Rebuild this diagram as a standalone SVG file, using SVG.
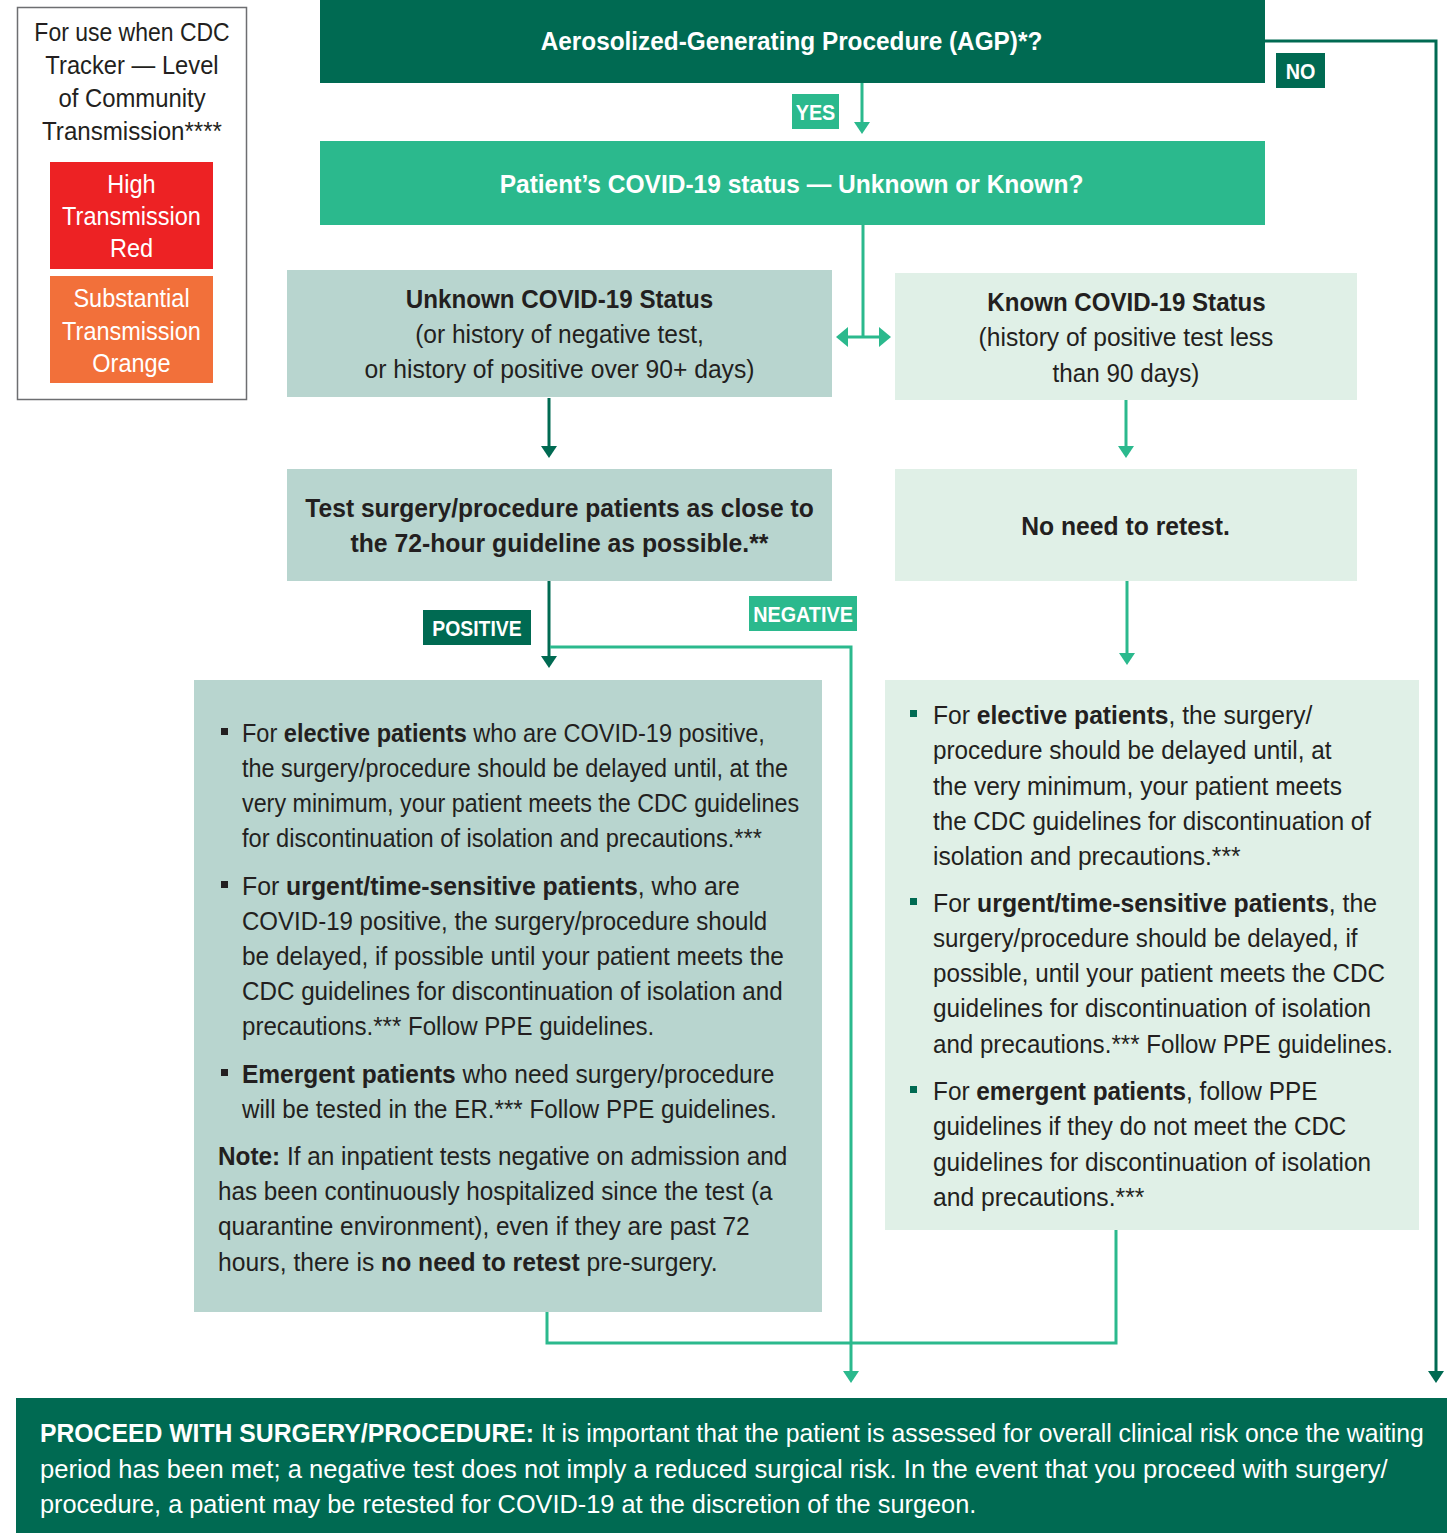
<svg xmlns="http://www.w3.org/2000/svg" width="1447" height="1533" viewBox="0 0 1447 1533">
<defs>
<style>
.t{font-family:"Liberation Sans",Arial,Helvetica,sans-serif;font-size:26px;fill:#231f20}
.lg{font-size:25px}
.w{fill:#ffffff}
.b{font-weight:bold}
.m{text-anchor:middle}
.lab{font-family:"Liberation Sans",Arial,sans-serif;font-size:22px;font-weight:bold;fill:#ffffff;text-anchor:middle}
.cd{fill:none;stroke:#006a52;stroke-width:3}
.cl{fill:none;stroke:#2bb98d;stroke-width:3}
</style>
<marker id="ad" viewBox="0 0 12 16" markerWidth="12" markerHeight="16" refX="0" refY="8" orient="auto" markerUnits="userSpaceOnUse"><path d="M0,0 L12,8 L0,16 Z" fill="#006a52"/></marker>
<marker id="al" viewBox="0 0 12 16" markerWidth="12" markerHeight="16" refX="0" refY="8" orient="auto" markerUnits="userSpaceOnUse"><path d="M0,0 L12,8 L0,16 Z" fill="#2bb98d"/></marker>
<marker id="alw" viewBox="0 0 12 20" markerWidth="12" markerHeight="20" refX="0" refY="10" orient="auto-start-reverse" markerUnits="userSpaceOnUse"><path d="M0,0 L12,10 L0,20 Z" fill="#2bb98d"/></marker>
</defs>
<rect width="1447" height="1533" fill="#ffffff"/>

<g id="connectors">
<path class="cd" d="M1265,41 H1436 V1371" marker-end="url(#ad)"/>
<path class="cl" d="M862,83 V122" marker-end="url(#al)"/>
<path class="cl" d="M863,225 V337"/>
<path class="cl" d="M848,337 H879" marker-start="url(#alw)" marker-end="url(#alw)"/>
<path class="cd" d="M549,398 V446" marker-end="url(#ad)"/>
<path class="cl" d="M1126,400 V446" marker-end="url(#al)"/>
<path class="cd" d="M549,581 V656" marker-end="url(#ad)"/>
<path class="cl" d="M550,647 H851 V1371" marker-end="url(#al)"/>
<path class="cl" d="M1127,581 V653" marker-end="url(#al)"/>
<path class="cl" d="M547,1312 V1343 H1116 V1230"/>
<g id="label-yes"><rect x="792" y="94" width="47" height="35" fill="#2bb98d"/><text class="lab" transform="translate(815.5 0) scale(0.9 1)" x="0" y="120">YES</text></g>
<g id="label-no"><rect x="1276" y="53" width="49" height="35" fill="#006a52"/><text class="lab" transform="translate(1300.5 0) scale(0.9 1)" x="0" y="79">NO</text></g>
<g id="label-positive"><rect x="423" y="610" width="108" height="35" fill="#006a52"/><text class="lab" transform="translate(477 0) scale(0.88 1)" x="0" y="636">POSITIVE</text></g>
<g id="label-negative"><rect x="749" y="596" width="108" height="35" fill="#2bb98d"/><text class="lab" transform="translate(803 0) scale(0.9 1)" x="0" y="622">NEGATIVE</text></g>
</g>

<g id="legend">
<rect x="17.5" y="7.5" width="229" height="392" fill="#ffffff" stroke="#6d6e71" stroke-width="1.5"/>
<text class="t lg m" transform="translate(132 0) scale(0.919 1)" x="0" y="41">For use when CDC</text>
<text class="t lg m" transform="translate(132 0) scale(0.95 1)" x="0" y="74">Tracker — Level</text>
<text class="t lg m" transform="translate(132 0) scale(0.955 1)" x="0" y="107">of Community</text>
<text class="t lg m" transform="translate(132 0) scale(0.965 1)" x="0" y="140">Transmission****</text>
<g id="legend-red"><rect x="50" y="162" width="163" height="107" fill="#ed2224"/>
<text class="t lg w m" transform="translate(131.5 0) scale(0.94 1)"><tspan x="0" y="193">High</tspan><tspan x="0" y="225">Transmission</tspan><tspan x="0" y="257">Red</tspan></text></g>
<g id="legend-orange"><rect x="50" y="276" width="163" height="107" fill="#f2703a"/>
<text class="t lg w m" transform="translate(131.5 0) scale(0.94 1)"><tspan x="0" y="307">Substantial</tspan><tspan x="0" y="340">Transmission</tspan><tspan x="0" y="372">Orange</tspan></text></g>
</g>

<g id="agp">
<rect x="320" y="0" width="945" height="83" fill="#006a52"/>
<text class="t w b m" transform="translate(791.5 0) scale(0.936 1)" x="0" y="50">Aerosolized-Generating Procedure (AGP)*?</text>
</g>

<g id="status">
<rect x="320" y="141" width="945" height="84" fill="#2bb98d"/>
<text class="t w b m" transform="translate(791.5 0) scale(0.944 1)" x="0" y="193">Patient’s COVID-19 status — Unknown or Known?</text>
</g>

<g id="unknown">
<rect x="287" y="270" width="545" height="127" fill="#b8d5cf"/>
<text class="t b m" transform="translate(559.5 0) scale(0.93 1)" x="0" y="308">Unknown COVID-19 Status</text>
<text class="t m" transform="translate(559.5 0) scale(0.943 1)" x="0" y="343">(or history of negative test,</text>
<text class="t m" transform="translate(559.5 0) scale(0.949 1)" x="0" y="378">or history of positive over 90+ days)</text>
</g>

<g id="known">
<rect x="895" y="273" width="462" height="127" fill="#e0f0e7"/>
<text class="t b m" transform="translate(1126.5 0) scale(0.927 1)" x="0" y="311">Known COVID-19 Status</text>
<text class="t m" transform="translate(1126 0) scale(0.945 1)" x="0" y="346">(history of positive test less</text>
<text class="t m" transform="translate(1126 0) scale(0.932 1)" x="0" y="382">than 90 days)</text>
</g>

<g id="test">
<rect x="287" y="469" width="545" height="112" fill="#b8d5cf"/>
<text class="t b m" transform="translate(559.5 0) scale(0.947 1)" x="0" y="517">Test surgery/procedure patients as close to</text>
<text class="t b m" transform="translate(559.5 0) scale(0.952 1)" x="0" y="552">the 72-hour guideline as possible.**</text>
</g>

<g id="noretest">
<rect x="895" y="469" width="462" height="112" fill="#e0f0e7"/>
<text class="t b m" transform="translate(1125.5 0) scale(0.95 1)" x="0" y="535">No need to retest.</text>
</g>

<g id="positive-box">
<rect x="194" y="680" width="628" height="632" fill="#b8d5cf"/>
<rect x="221" y="728" width="7" height="7" fill="#231f20"/>
<rect x="221" y="881" width="7" height="7" fill="#231f20"/>
<rect x="221" y="1069" width="7" height="7" fill="#231f20"/>
<text class="t" transform="translate(242 0) scale(0.905 1)" x="0" y="742">For <tspan class="b">elective patients</tspan> who are COVID-19 positive,</text>
<text class="t" transform="translate(242 0) scale(0.9 1)" x="0" y="777">the surgery/procedure should be delayed until, at the</text>
<text class="t" transform="translate(242 0) scale(0.897 1)" x="0" y="812">very minimum, your patient meets the CDC guidelines</text>
<text class="t" transform="translate(242 0) scale(0.909 1)" x="0" y="847">for discontinuation of isolation and precautions.***</text>
<text class="t" transform="translate(242 0) scale(0.955 1)" x="0" y="895">For <tspan class="b">urgent/time-sensitive patients</tspan>, who are</text>
<text class="t" transform="translate(242 0) scale(0.925 1)" x="0" y="930">COVID-19 positive, the surgery/procedure should</text>
<text class="t" transform="translate(242 0) scale(0.94 1)" x="0" y="965">be delayed, if possible until your patient meets the</text>
<text class="t" transform="translate(242 0) scale(0.931 1)" x="0" y="1000">CDC guidelines for discontinuation of isolation and</text>
<text class="t" transform="translate(242 0) scale(0.927 1)" x="0" y="1035">precautions.*** Follow PPE guidelines.</text>
<text class="t" transform="translate(242 0) scale(0.943 1)" x="0" y="1083"><tspan class="b">Emergent patients</tspan> who need surgery/procedure</text>
<text class="t" transform="translate(242 0) scale(0.93 1)" x="0" y="1118">will be tested in the ER.*** Follow PPE guidelines.</text>
<text class="t" transform="translate(218 0) scale(0.936 1)" x="0" y="1165"><tspan class="b">Note:</tspan> If an inpatient tests negative on admission and</text>
<text class="t" transform="translate(218 0) scale(0.934 1)" x="0" y="1200">has been continuously hospitalized since the test (a</text>
<text class="t" transform="translate(218 0) scale(0.939 1)" x="0" y="1235">quarantine environment), even if they are past 72</text>
<text class="t" transform="translate(218 0) scale(0.949 1)" x="0" y="1271">hours, there is <tspan class="b">no need to retest</tspan> pre-surgery.</text>
</g>

<g id="known-box">
<rect x="885" y="680" width="534" height="550" fill="#e0f0e7"/>
<rect x="910" y="710" width="7" height="7" fill="#006a52"/>
<rect x="910" y="898" width="7" height="7" fill="#006a52"/>
<rect x="910" y="1086" width="7" height="7" fill="#006a52"/>
<text class="t" transform="translate(933 0) scale(0.948 1)" x="0" y="724">For <tspan class="b">elective patients</tspan>, the surgery/</text>
<text class="t" transform="translate(933 0) scale(0.935 1)" x="0" y="759">procedure should be delayed until, at</text>
<text class="t" transform="translate(933 0) scale(0.944 1)" x="0" y="795">the very minimum, your patient meets</text>
<text class="t" transform="translate(933 0) scale(0.93 1)" x="0" y="830">the CDC guidelines for discontinuation of</text>
<text class="t" transform="translate(933 0) scale(0.946 1)" x="0" y="865">isolation and precautions.***</text>
<text class="t" transform="translate(933 0) scale(0.955 1)" x="0" y="912">For <tspan class="b">urgent/time-sensitive patients</tspan>, the</text>
<text class="t" transform="translate(933 0) scale(0.93 1)" x="0" y="947">surgery/procedure should be delayed, if</text>
<text class="t" transform="translate(933 0) scale(0.931 1)" x="0" y="982">possible, until your patient meets the CDC</text>
<text class="t" transform="translate(933 0) scale(0.939 1)" x="0" y="1017">guidelines for discontinuation of isolation</text>
<text class="t" transform="translate(933 0) scale(0.928 1)" x="0" y="1053">and precautions.*** Follow PPE guidelines.</text>
<text class="t" transform="translate(933 0) scale(0.937 1)" x="0" y="1100">For <tspan class="b">emergent patients</tspan>, follow PPE</text>
<text class="t" transform="translate(933 0) scale(0.929 1)" x="0" y="1135">guidelines if they do not meet the CDC</text>
<text class="t" transform="translate(933 0) scale(0.939 1)" x="0" y="1171">guidelines for discontinuation of isolation</text>
<text class="t" transform="translate(933 0) scale(0.95 1)" x="0" y="1206">and precautions.***</text>
</g>

<g id="proceed">
<rect x="16" y="1398" width="1431" height="135" fill="#006a52"/>
<text class="t w" transform="translate(40 0) scale(0.952 1)" x="0" y="1442"><tspan class="b">PROCEED WITH SURGERY/PROCEDURE:</tspan> It is important that the patient is assessed for overall clinical risk once the waiting</text>
<text class="t w" transform="translate(40 0) scale(0.985 1)" x="0" y="1478">period has been met; a negative test does not imply a reduced surgical risk. In the event that you proceed with surgery/</text>
<text class="t w" transform="translate(40 0) scale(0.975 1)" x="0" y="1513">procedure, a patient may be retested for COVID-19 at the discretion of the surgeon.</text>
</g>
</svg>
